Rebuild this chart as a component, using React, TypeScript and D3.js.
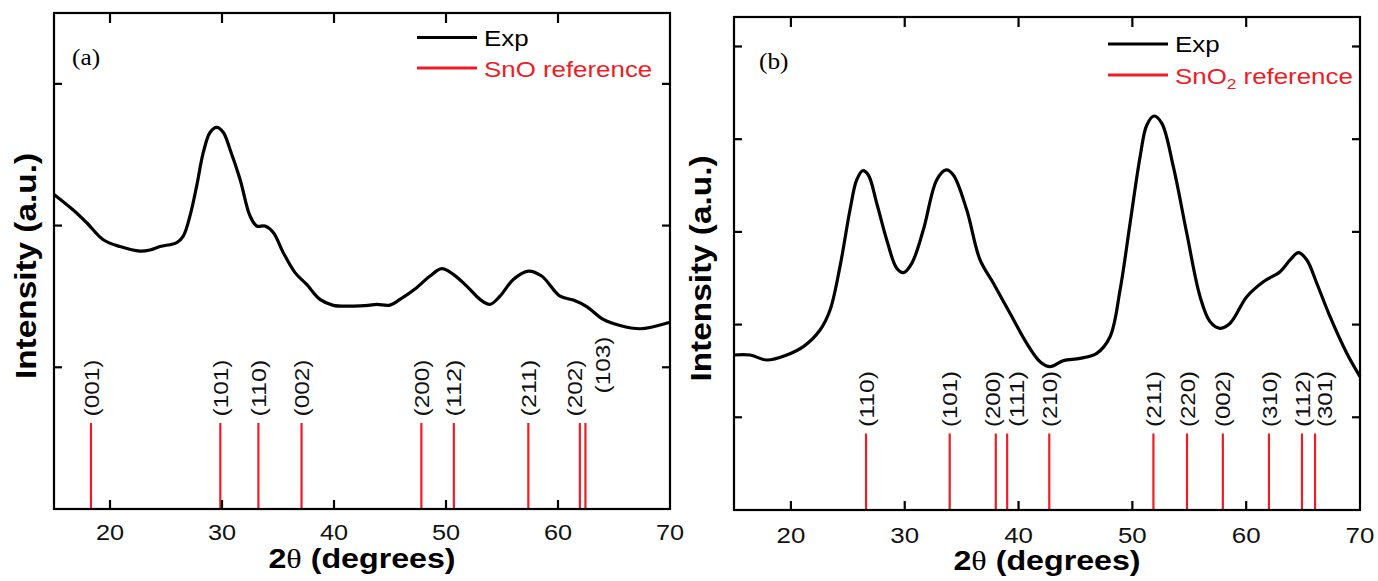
import React from "react";
import * as d3 from "d3";

// ---------- data ----------
const xTickValues = [20, 30, 40, 50, 60, 70];

// Panel (a) experimental pattern (2θ, intensity a.u.)
const expA2Theta = [15.0, 16.72, 17.92, 19.4, 20.89, 22.68, 23.57, 24.46, 25.96, 26.54, 27.14, 27.74, 28.33, 28.93, 29.53, 30.12, 30.71, 31.61, 32.5, 33.1, 33.84, 34.58, 35.47, 36.52, 37.56, 38.75, 39.94, 41.72, 43.06, 43.81, 45.0, 45.89, 47.38, 48.57, 49.62, 50.65, 51.85, 53.04, 53.93, 54.82, 56.01, 57.35, 58.54, 60.18, 61.37, 62.56, 64.04, 65.54, 67.32, 68.51, 70.0];
const expAIntensity = [2.22, 2.11, 2.02, 1.9, 1.852, 1.82, 1.828, 1.852, 1.88, 1.926, 2.068, 2.28, 2.516, 2.657, 2.693, 2.657, 2.539, 2.327, 2.068, 1.997, 1.997, 1.951, 1.809, 1.668, 1.585, 1.479, 1.437, 1.432, 1.437, 1.444, 1.439, 1.479, 1.562, 1.644, 1.696, 1.656, 1.573, 1.479, 1.444, 1.502, 1.62, 1.679, 1.644, 1.502, 1.474, 1.428, 1.338, 1.295, 1.272, 1.286, 1.318];

// SnO reference reflections
const snoPeaks = [18.3, 29.85, 33.25, 37.1, 47.8, 50.7, 57.35, 61.95, 62.45];
const snoLabels = ["(001)", "(101)", "(110)", "(002)", "(200)", "(112)", "(211)", "(202)", "(103)"];

// Panel (b) experimental pattern
const expB2Theta = [15.0, 16.41, 17.87, 19.63, 21.09, 22.56, 23.44, 24.31, 25.19, 25.78, 26.31, 26.8, 27.54, 28.42, 29.3, 29.88, 30.62, 31.63, 32.81, 33.63, 34.27, 35.45, 36.62, 37.79, 39.25, 40.72, 41.89, 42.77, 43.94, 45.4, 46.87, 48.04, 48.92, 49.8, 50.68, 51.27, 51.91, 52.59, 53.6, 54.78, 55.95, 56.83, 57.71, 58.59, 60.05, 61.51, 62.98, 63.86, 64.59, 65.33, 66.2, 67.37, 68.84, 70.0];
const expBIntensity = [1.672, 1.672, 1.618, 1.672, 1.762, 1.942, 2.157, 2.625, 3.236, 3.56, 3.66, 3.614, 3.309, 2.913, 2.607, 2.56, 2.661, 3.02, 3.56, 3.668, 3.614, 3.236, 2.697, 2.446, 2.122, 1.798, 1.6, 1.546, 1.611, 1.636, 1.69, 1.869, 2.373, 3.093, 3.811, 4.153, 4.25, 4.171, 3.703, 2.985, 2.301, 2.031, 1.96, 2.014, 2.301, 2.463, 2.571, 2.697, 2.776, 2.697, 2.446, 2.085, 1.69, 1.438];

// SnO2 reference reflections
const sno2Peaks = [26.6, 33.95, 38.0, 39.0, 42.7, 51.85, 54.8, 57.95, 62.0, 64.9, 66.05];
const sno2Labels = ["(110)", "(101)", "(200)", "(111)", "(210)", "(211)", "(220)", "(002)", "(310)", "(112)", "(301)"];

// ---------- rendering ----------
const SX = 1.15;
const RED = "#ee1c25";

function SText({ x, y, rot = 0, sx = SX, children, ...rest }: any) {
  return (
    <text transform={`translate(${x},${y}) rotate(${rot}) scale(${sx},1)`} {...rest}>
      {children}
    </text>
  );
}

type PanelProps = {
  left: number; right: number; top: number; bottom: number;
  yMax: number; yTicks: number[];
  xs: number[]; ys: number[];
  peaks: number[]; labels: string[];
  peakTop: number; labelBottom: number; labelLen: number;
  nudges: Record<string, [number, number]>;
  tag: string; tagX: number; tagY: number;
  legX: number; legY1: number; legY2: number;
  refName: React.ReactNode;
  tickFont: number; tickBase: number;
  yTitleX: number; xTitleBase: number;
};

function Panel(p: PanelProps) {
  const x = d3.scaleLinear().domain([15, 70]).range([p.left, p.right]);
  const y = d3.scaleLinear().domain([0, p.yMax]).range([p.bottom, p.top]);
  const pts = p.xs.map((v, i) => [v, p.ys[i]] as [number, number]);
  const line = d3.line<[number, number]>()
    .x((d) => x(d[0]))
    .y((d) => y(d[1]))
    .curve(d3.curveCatmullRom.alpha(0.5));
  const font = "'Liberation Sans', Arial, sans-serif";
  const cx = (p.left + p.right) / 2;
  const cy = (p.top + p.bottom) / 2;
  return (
    <g>
      {/* reference sticks */}
      {p.peaks.map((v, i) => (
        <line key={"pk" + i} x1={x(v)} x2={x(v)} y1={p.peakTop} y2={p.bottom} stroke={RED} strokeWidth={2.2} />
      ))}
      {p.labels.map((lab, i) => {
        const n = p.nudges[lab] || [0, 0];
        return (
          <text key={"lb" + i}
            transform={`translate(${x(p.peaks[i]) + n[0]},${p.labelBottom + n[1]}) rotate(-90)`}
            fontFamily={font} fontSize={21} dy="0.36em"
            textLength={p.labelLen} lengthAdjust="spacingAndGlyphs" fill="#111">
            {lab}
          </text>
        );
      })}
      {/* experimental curve */}
      <path d={line(pts) || ""} fill="none" stroke="#000" strokeWidth={3.2} strokeLinejoin="round" />
      {/* frame */}
      <rect x={p.left} y={p.top} width={p.right - p.left} height={p.bottom - p.top} fill="none" stroke="#000" strokeWidth={2.2} />
      {/* x ticks */}
      {xTickValues.filter((t) => t < 70).map((t) => (
        <g key={"xt" + t}>
          <line x1={x(t)} x2={x(t)} y1={p.bottom} y2={p.bottom - 9} stroke="#000" strokeWidth={2.2} />
          <line x1={x(t)} x2={x(t)} y1={p.top} y2={p.top + 10} stroke="#000" strokeWidth={2.2} />
        </g>
      ))}
      {xTickValues.map((t) => (
        <SText key={"xl" + t} x={x(t)} y={p.tickBase} textAnchor="middle" fontFamily={font} fontSize={p.tickFont} fill="#111">
          {t}
        </SText>
      ))}
      {/* y ticks */}
      {p.yTicks.map((t) => (
        <g key={"yt" + t}>
          <line x1={p.left} x2={p.left + 8} y1={y(t)} y2={y(t)} stroke="#000" strokeWidth={2.2} />
          <line x1={p.right} x2={p.right - 8} y1={y(t)} y2={y(t)} stroke="#000" strokeWidth={2.2} />
        </g>
      ))}
      {/* axis titles */}
      <SText x={p.yTitleX} y={cy + 5} rot={-90} textAnchor="middle" fontFamily={font} fontWeight="bold" fontSize={29} fill="#000">
        Intensity (a.u.)
      </SText>
      <SText x={cx} y={p.xTitleBase} textAnchor="middle" fontFamily={font} fontWeight="bold" fontSize={28} fill="#000">
        2<tspan fontWeight="normal" fontFamily="'Liberation Serif', 'Times New Roman', serif">θ</tspan> (degrees)
      </SText>
      {/* panel tag */}
      <SText x={p.tagX} y={p.tagY} sx={1.1} fontFamily="'Liberation Serif', 'Times New Roman', serif" fontSize={23} fill="#000">
        {p.tag}
      </SText>
      {/* legend */}
      <line x1={p.legX} x2={p.legX + 60} y1={p.legY1} y2={p.legY1} stroke="#000" strokeWidth={3.2} />
      <SText x={p.legX + 67} y={p.legY1 + 8} fontFamily={font} fontSize={22.5} fill="#000">Exp</SText>
      <line x1={p.legX} x2={p.legX + 60} y1={p.legY2} y2={p.legY2} stroke={RED} strokeWidth={3.2} />
      <SText x={p.legX + 67} y={p.legY2 + 8.5} fontFamily={font} fontSize={22.5} fill={RED}>{p.refName}</SText>
    </g>
  );
}

export default function App() {
  return (
    <svg width={1378} height={581} style={{ position: "absolute", left: 0, top: 0, background: "#fff" }}>
      <rect x={0} y={0} width={1378} height={581} fill="#fff" />
      <Panel
        left={54} right={670} top={13} bottom={509}
        yMax={3.5} yTicks={[1, 2, 3]}
        xs={expA2Theta} ys={expAIntensity}
        peaks={snoPeaks} labels={snoLabels}
        peakTop={423} labelBottom={416.5} labelLen={57}
        nudges={{ "(202)": [-5, 0], "(103)": [17, -23] }}
        tag="(a)" tagX={72} tagY={65}
        legX={417} legY1={37.5} legY2={68}
        refName="SnO reference"
        tickFont={22} tickBase={540}
        yTitleX={36} xTitleBase={568}
      />
      <Panel
        left={734} right={1360} top={17} bottom={510}
        yMax={5.318} yTicks={[1, 2, 3, 4, 5]}
        xs={expB2Theta} ys={expBIntensity}
        peaks={sno2Peaks} labels={sno2Labels}
        peakTop={433.5} labelBottom={427} labelLen={56}
        nudges={{ "(200)": [-3, 0], "(111)": [9, 0], "(301)": [9, 0] }}
        tag="(b)" tagX={759} tagY={69}
        legX={1108} legY1={44} legY2={75}
        refName={<>SnO<tspan fontSize={15} dy={5}>2</tspan><tspan dy={-5}> reference</tspan></>}
        tickFont={22.5} tickBase={543}
        yTitleX={711} xTitleBase={570}
      />
    </svg>
  );
}
